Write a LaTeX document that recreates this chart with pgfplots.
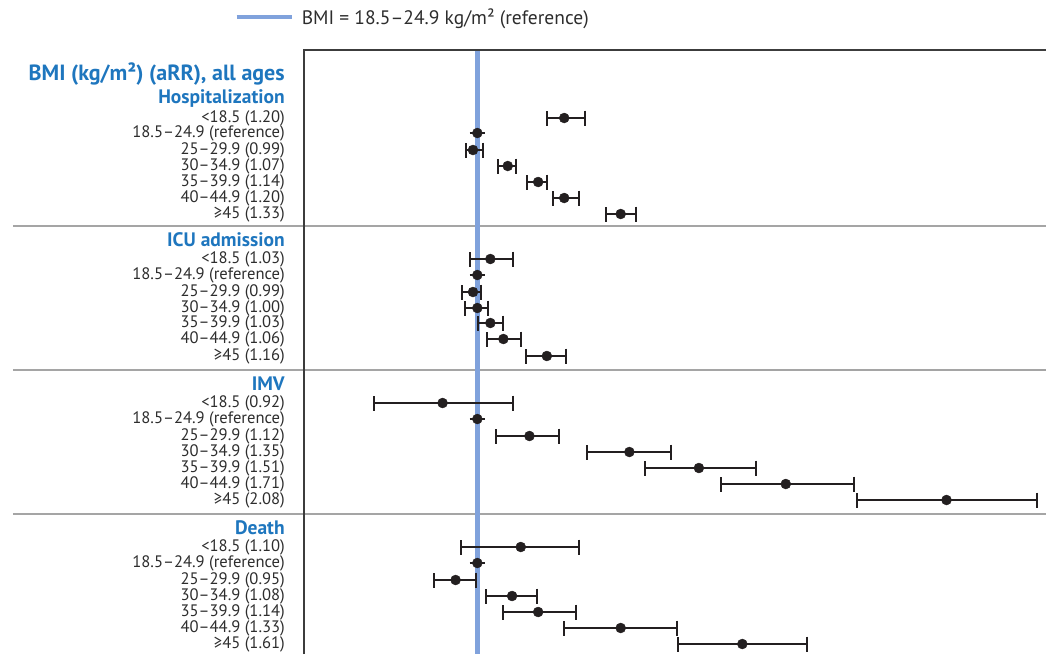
\documentclass[border=0pt]{standalone}
\usepackage{pgfplots}
\pgfplotsset{compat=1.18}
\usepackage{pgfplotstable}
\usepackage{fontspec}
\setmainfont{PT Sans}

\definecolor{headblue}{RGB}{30,118,190}
\definecolor{refblue}{RGB}{128,162,220}
\definecolor{dotblack}{RGB}{35,31,32}
\definecolor{textgray}{RGB}{45,45,45}
\definecolor{sepgray}{RGB}{165,165,165}
\definecolor{bordercol}{RGB}{60,60,60}

% y = row position (px from top), x = aRR, lo/hi = 95% CI
\pgfplotstableread{
y   x    lo    hi
118 1.20 1.161 1.247
133 1.00 1.000 1.000
150 0.99 0.975 1.012
166 1.07 1.048 1.088
182 1.14 1.115 1.161
198 1.20 1.175 1.235
214 1.33 1.297 1.366
}\hosp
\pgfplotstableread{
y   x    lo    hi
259 1.03 0.982 1.081
275 1.00 1.000 1.000
292 0.99 0.965 1.009
308 1.00 0.972 1.025
323 1.03 1.002 1.060
339 1.06 1.023 1.101
356 1.16 1.113 1.203
}\icu
\pgfplotstableread{
y   x    lo    hi
403 0.92 0.763 1.083
419 1.00 1.000 1.000
436 1.12 1.044 1.187
452 1.35 1.253 1.445
468 1.51 1.385 1.641
484 1.71 1.562 1.866
500 2.08 1.873 2.288
}\imv
\pgfplotstableread{
y   x    lo    hi
547 1.10 0.963 1.235
563 1.00 1.000 1.000
580 0.95 0.901 0.998
596 1.08 1.021 1.138
612 1.14 1.060 1.226
628 1.33 1.200 1.459
644 1.61 1.461 1.758
}\death

\pgfplotsset{
  forest/.style={
    only marks, mark=*, mark size=5pt, color=dotblack, forget plot,
    error bars/.cd, x dir=both, x explicit,
    error bar style={line width=2pt, dotblack},
    error mark options={rotate=90, line width=2pt, mark size=7.5pt, dotblack}
  }
}

\begin{document}
\begin{tikzpicture}
\begin{axis}[
  scale only axis, width=742pt, height=604pt,
  xmin=0.601, xmax=2.309, ymin=50, ymax=654, y dir=reverse,
  clip=false,
  axis line style={draw=none},
  xtick=\empty,
  ytick={118,133,150,166,182,198,214,259,275,292,308,323,339,356,403,419,436,452,468,484,500,547,563,580,596,612,628,644},
  yticklabels={
    {<18.5 (1.20)},{18.5–24.9 (reference)},{25–29.9 (0.99)},{30–34.9 (1.07)},{35–39.9 (1.14)},{40–44.9 (1.20)},{≥45 (1.33)},
    {<18.5 (1.03)},{18.5–24.9 (reference)},{25–29.9 (0.99)},{30–34.9 (1.00)},{35–39.9 (1.03)},{40–44.9 (1.06)},{≥45 (1.16)},
    {<18.5 (0.92)},{18.5–24.9 (reference)},{25–29.9 (1.12)},{30–34.9 (1.35)},{35–39.9 (1.51)},{40–44.9 (1.71)},{≥45 (2.08)},
    {<18.5 (1.10)},{18.5–24.9 (reference)},{25–29.9 (0.95)},{30–34.9 (1.08)},{35–39.9 (1.14)},{40–44.9 (1.33)},{≥45 (1.61)}},
  major tick length=0pt,
  yticklabel style={font=\fontsize{16.6}{17}\selectfont, text=textgray, inner xsep=0pt, inner ysep=0pt, xshift=-19pt},
  legend style={at={(axis cs:0.44,17)}, anchor=west, draw=none, fill=none,
    font=\fontsize{19.5}{20}\selectfont, text=textgray, inner xsep=0pt},
  legend image code/.code={\draw[#1, line width=4.5pt] (0pt,0pt) -- (55pt,0pt);},
]
% separators
\draw[sepgray, line width=2pt] (axis cs:-0.069,226) -- (axis cs:2.309,226);
\draw[sepgray, line width=2pt] (axis cs:-0.069,370) -- (axis cs:2.309,370);
\draw[sepgray, line width=2pt] (axis cs:-0.069,514) -- (axis cs:2.309,514);
% reference line
\addplot[refblue, line width=4.5pt] coordinates {(1,50) (1,654)};
\addlegendentry{\hspace{6pt}BMI = 18.5–24.9 kg/m² (reference)}
% border
\draw[bordercol, line width=2pt] (axis cs:0.601,654) -- (axis cs:0.601,50) -- (axis cs:2.309,50);
% data
\addplot[forest] table[x=x, y=y, x error plus expr=\thisrow{hi}-\thisrow{x}, x error minus expr=\thisrow{x}-\thisrow{lo}] {\hosp};
\addplot[forest] table[x=x, y=y, x error plus expr=\thisrow{hi}-\thisrow{x}, x error minus expr=\thisrow{x}-\thisrow{lo}] {\icu};
\addplot[forest] table[x=x, y=y, x error plus expr=\thisrow{hi}-\thisrow{x}, x error minus expr=\thisrow{x}-\thisrow{lo}] {\imv};
\addplot[forest] table[x=x, y=y, x error plus expr=\thisrow{hi}-\thisrow{x}, x error minus expr=\thisrow{x}-\thisrow{lo}] {\death};
% headers
\node[anchor=east, text=headblue, font=\fontsize{22}{23}\bfseries, inner sep=0pt] at (axis cs:0.557,74) {BMI (kg/m²) (aRR), all ages};
\node[anchor=east, text=headblue, font=\fontsize{19.5}{20}\bfseries, inner sep=0pt] at (axis cs:0.557,99) {Hospitalization};
\node[anchor=east, text=headblue, font=\fontsize{19.5}{20}\bfseries, inner sep=0pt] at (axis cs:0.557,240) {ICU admission};
\node[anchor=east, text=headblue, font=\fontsize{19.5}{20}\bfseries, inner sep=0pt] at (axis cs:0.557,384) {IMV};
\node[anchor=east, text=headblue, font=\fontsize{19.5}{20}\bfseries, inner sep=0pt] at (axis cs:0.557,528) {Death};
\end{axis}
\pgfresetboundingbox
\path[use as bounding box] (-304pt,0pt) rectangle (742pt,654pt);
\end{tikzpicture}
\end{document}
